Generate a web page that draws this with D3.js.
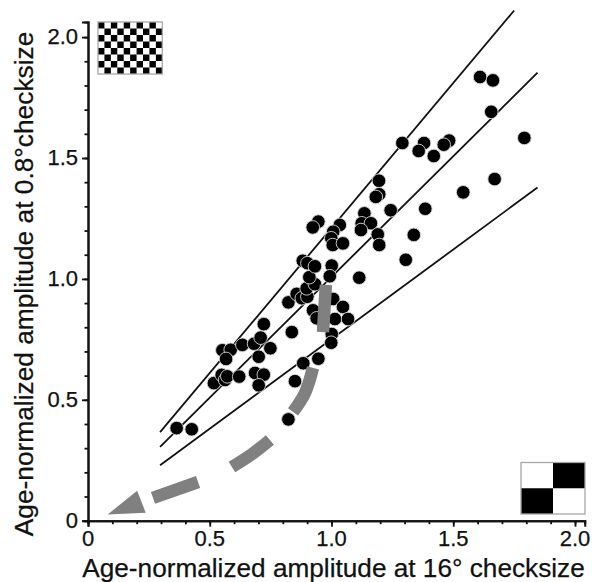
<!DOCTYPE html>
<html><head><meta charset="utf-8">
<script src="https://cdn.jsdelivr.net/npm/d3@7/dist/d3.min.js"></script>
<style>html,body{margin:0;padding:0;background:#fff}svg{display:block}text{font-family:"Liberation Sans",Arial,sans-serif;fill:#111;stroke:#111;stroke-width:0.25}</style>
</head><body><div id="c"></div>
<script>
const xTicks=[0,0.5,1,1.5,2];
const yTicks=[0,0.5,1,1.5,2];
const tickLabels=["0","0.5","1.0","1.5","2.0"];
const xTitle="Age-normalized amplitude at 16\u00B0 checksize";
const yTitle="Age-normalized amplitude at 0.8\u00B0checksize";
const pointsX=[.364,.426,.823,.517,.549,.563,.572,.621,.552,.586,.567,.634,.682,.709,.722,.749,.701,.686,.722,.701,.850,.884,.946,.837,.823,.857,.878,.901,.898,.932,.909,.882,.901,.932,1.001,.993,1.114,1.007,.924,1.047,.939,1.014,1.068,1.001,.999,.946,.923,1.034,1.007,.999,1.005,1.047,1.135,1.124,1.162,1.121,1.190,1.196,1.195,1.196,1.182,1.243,1.291,1.380,1.358,1.483,1.461,1.420,1.385,1.338,1.305,1.541,1.670,1.792,1.656,1.610,1.663];
const pointsY=[.383,.378,.419,.569,.603,.582,.597,.596,.705,.707,.669,.727,.732,.757,.813,.713,.678,.611,.604,.560,.577,.651,.670,.780,.903,.938,.920,.926,.961,.978,1.007,1.075,1.065,1.052,1.055,1.011,1.005,.917,.870,.884,.837,.834,.834,.772,.736,1.237,1.213,1.223,1.195,1.168,1.140,1.147,1.271,1.230,1.230,1.202,1.184,1.140,1.406,1.350,1.339,1.284,1.562,1.562,1.529,1.572,1.555,1.508,1.290,1.182,1.079,1.358,1.413,1.583,1.691,1.835,1.821];
const upperLine=[[0.296,0.366],[1.75,2.11]];
const middleLine=[[0.296,0.305],[1.846,1.853]];
const lowerLine=[[0.296,0.229],[1.846,1.378]];
const arrowDashes=[
 [[.977,.975],[.965,.780]],
 [[.924,.632],[.891,.528],[.842,.450]],
 [[.747,.334],[.674,.276],[.591,.222]],
 [[.452,.160],[.267,.094]]
];
const arrowHead=[[.081,.026],[.202,.124],[.237,.033]];

const W=592,H=582;
const x=d3.scaleLinear().domain([0,2.04]).range([88,88+2.04*243.5]);
const y=d3.scaleLinear().domain([0,2.062]).range([520.7,520.7-2.062*241.8]);
const svg=d3.select("#c").append("svg").attr("width",W).attr("height",H);

const line=d3.line().x(d=>x(d[0])).y(d=>y(d[1]));

svg.append("g").selectAll("path").data([upperLine,middleLine,lowerLine]).join("path")
 .attr("d",line).attr("fill","none").attr("stroke","#111").attr("stroke-width",1.8);

svg.append("g").selectAll("circle").data(pointsX.map((v,i)=>[v,pointsY[i]])).join("circle")
 .attr("cx",d=>x(d[0])).attr("cy",d=>y(d[1])).attr("r",6.8)
 .attr("fill","#000").attr("stroke","#d8d8d8").attr("stroke-width",0.9);

svg.append("g").selectAll("path").data(arrowDashes).join("path")
 .attr("d",d=>d.length>2?d3.line().x(p=>x(p[0])).y(p=>y(p[1])).curve(d3.curveCatmullRom)(d):line(d))
 .attr("fill","none").attr("stroke","#808080").attr("stroke-width",12.5);
svg.append("path").attr("d",line(arrowHead)+"Z").attr("fill","#808080");

const minor=d3.range(0,2.01,0.1);
const xAxis=svg.append("g").attr("transform",`translate(0,${y(0)})`)
 .call(d3.axisBottom(x).tickValues(minor).tickSize(3.5).tickFormat(""));
xAxis.append("g").call(d3.axisBottom(x).tickValues(xTicks).tickSize(6).tickFormat(""));
const yAxis=svg.append("g").attr("transform",`translate(${x(0)},0)`)
 .call(d3.axisLeft(y).tickValues(minor).tickSize(3.5).tickFormat(""));
yAxis.append("g").call(d3.axisLeft(y).tickValues(yTicks).tickSize(6).tickFormat(""));
svg.selectAll(".domain").attr("stroke","#111").attr("stroke-width",2);
svg.selectAll(".tick line").attr("stroke","#111").attr("stroke-width",1.8);

svg.append("g").selectAll("text").data(xTicks).join("text")
 .attr("x",d=>x(d)).attr("y",546).attr("text-anchor","middle").attr("font-size",22)
 .text((d,i)=>tickLabels[i]);
svg.append("g").selectAll("text").data(yTicks).join("text")
 .attr("x",78).attr("y",d=>y(d)+7).attr("text-anchor","end").attr("font-size",22)
 .text((d,i)=>tickLabels[i]);

svg.append("text").attr("x",333.5).attr("y",577).attr("text-anchor","middle")
 .attr("font-size",26.2).text(xTitle);
svg.append("text").attr("transform","translate(33,284) rotate(-90)").attr("text-anchor","middle")
 .attr("font-size",26.3).text(yTitle);

// Checkerboard insets
function checker(px,py,w,h,cols,rows,blackAt){
 const g=svg.append("g");
 const sx=d3.scaleLinear().domain([0,cols]).range([px,px+w]);
 const sy=d3.scaleLinear().domain([0,rows]).range([py,py+h]);
 const cells=d3.cross(d3.range(cols),d3.range(rows)).filter(([c,r])=>(c+r)%2===blackAt);
 g.selectAll("rect").data(cells).join("rect")
  .attr("x",d=>sx(d[0])).attr("y",d=>sy(d[1])).attr("width",w/cols).attr("height",h/rows).attr("fill","#000");
 g.append("rect").attr("x",px).attr("y",py).attr("width",w).attr("height",h)
  .attr("fill","none").attr("stroke","#a6a6a6").attr("stroke-width",1.3);
}
checker(98,22,64.3,52,10,8,0);
checker(521,462.5,64,51.5,2,2,1);
</script></body></html>
